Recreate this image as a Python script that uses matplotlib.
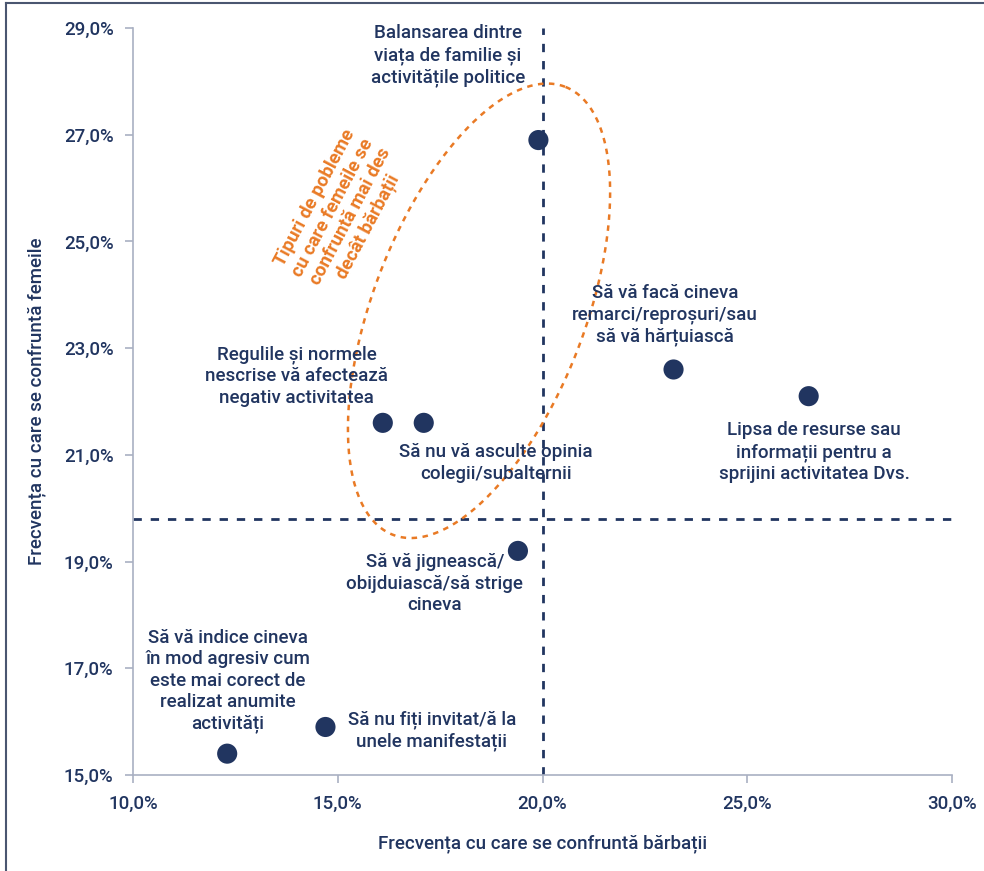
import numpy as np
import matplotlib
matplotlib.use("Agg")
import matplotlib.pyplot as plt
from matplotlib.lines import Line2D

plt.rcParams['font.family'] = ['Roboto', 'DejaVu Sans']

# ---- data ----
x_men = [19.9, 23.2, 26.5, 16.1, 17.1, 19.4, 14.7, 12.3]
y_women = [26.9, 22.6, 22.1, 21.6, 21.6, 19.2, 15.9, 15.4]
labels = [
    "Balansarea dintre\nviața de familie și\nactivitățile politice",
    "Să vă facă cineva\nremarci/reproșuri/sau\nsă vă hărțuiască",
    "Lipsa de resurse sau\ninformații pentru a\nsprijini activitatea Dvs.",
    "Regulile și normele\nnescrise vă afectează\nnegativ activitatea",
    "Să nu vă asculte opinia\ncolegii/subalternii",
    "Să vă jignească/\nobijduiască/să strige\ncineva",
    "Să nu fiți invitat/ă la\nunele manifestații",
    "Să vă indice cineva\nîn mod agresiv cum\neste mai corect de\nrealizat anumite\nactivități",
]
label_pos = [
    (17.69, 28.48), (22.99, 23.62), (26.63, 21.05), (14.0, 22.48),
    (18.86, 20.85), (17.37, 18.58), (17.30, 15.83), (12.32, 16.76),
]
avg_men = 20.0
avg_women = 19.8
x_ticks = [10, 15, 20, 25, 30]
y_ticks = [15, 17, 19, 21, 23, 25, 27, 29]
highlight_text = "Tipuri de pobleme\ncu care femeile se\nconfruntă mai des\ndecât bărbații"

navy = '#213560'
orange = '#E97A25'
spine_c = '#A9B0C2'

fig = plt.figure(figsize=(9.84, 8.71), dpi=100)
ax = fig.add_axes([133/984, 1-775/871, (952-133)/984, (775-28)/871])

ax.set_xlim(10, 30)
ax.set_ylim(15, 29)

ax.plot([avg_men, avg_men], [15, 29], ls=(0, (3, 3.2)), color=navy, lw=2, zorder=1)
ax.plot([10, 30], [avg_women, avg_women], ls=(0, (3, 3.2)), color=navy, lw=2, zorder=1)

ax.scatter(x_men, y_women, s=210, color=navy, zorder=3, edgecolors='none')

fs = 13.5
W = 500
for lab, (lx, ly) in zip(labels, label_pos):
    ax.text(lx, ly, lab, ha='center', va='center', color=navy, fontsize=fs,
            fontweight=W, linespacing=1.25, zorder=4)

# highlight ellipse (defined in pixel-like units, mapped to data)
cx, cy = 18.45, 23.7
a_px, b_px, theta = 240, 106, np.deg2rad(69)
px_x = 40.95
px_y = 53.36
t = np.linspace(0, 2*np.pi, 400)
ex = cx + (a_px*np.cos(t)*np.cos(theta) - b_px*np.sin(t)*np.sin(theta)) / px_x
ey = cy + (a_px*np.cos(t)*np.sin(theta) + b_px*np.sin(t)*np.cos(theta)) / px_y
ax.plot(ex, ey, color=orange, lw=1.8, ls=(0, (2.2, 2.2)), zorder=2)

ax.text(15.1, 25.55, highlight_text, rotation=62, ha='center', va='center',
        color=orange, fontsize=fs, fontweight='bold', linespacing=1.15,
        rotation_mode='anchor')

ax.set_xticks(x_ticks)
ax.set_xticklabels([f"{v:.1f}%".replace('.', ',') for v in x_ticks])
ax.set_yticks(y_ticks)
ax.set_yticklabels([f"{v:.1f}%".replace('.', ',') for v in y_ticks])
ax.tick_params(axis='both', direction='out', length=6, width=1.2, color=spine_c,
               labelcolor=navy, labelsize=fs, pad=8)
for lbl in ax.get_xticklabels() + ax.get_yticklabels():
    lbl.set_fontweight(W)

for s in ['top', 'right']:
    ax.spines[s].set_visible(False)
for s in ['left', 'bottom']:
    ax.spines[s].set_color(spine_c)
    ax.spines[s].set_linewidth(1.2)

ax.set_xlabel("Frecvența cu care se confruntă bărbații", color=navy, fontsize=fs,
              fontweight=W, labelpad=16)
ax.set_ylabel("Frecvența cu care se confruntă femeile", color=navy, fontsize=fs,
              fontweight=W, labelpad=13)

# outer frame (left and top)
fig.add_artist(Line2D([6/984, 6/984], [0, 1-3/871], color='#4A5670', lw=1.5,
                      transform=fig.transFigure))
fig.add_artist(Line2D([6/984, 1], [1-3/871, 1-3/871], color='#4A5670', lw=1.5,
                      transform=fig.transFigure))

fig.savefig('out.png', dpi=100)
